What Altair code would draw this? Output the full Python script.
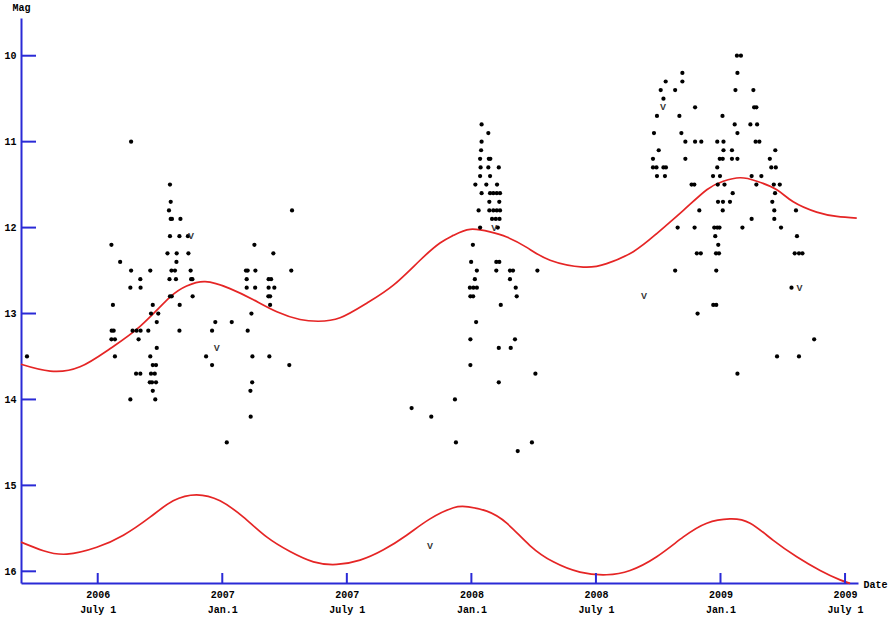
import altair as alt
import pandas as pd

# ---------------- data (decimal years, magnitudes) ----------------
s1_years = [2006.216, 2006.634, 2006.790, 2006.793, 2006.786, 2007.280, 2006.793, 2006.798, 2006.832,
            2006.790, 2006.828, 2006.862, 2006.555, 2007.129, 2006.780, 2006.817, 2006.864, 2007.205,
            2006.590, 2006.816, 2006.634, 2006.711, 2006.796, 2006.810, 2006.873, 2007.095, 2007.102,
            2007.133, 2007.277, 2006.671, 2006.788, 2006.814, 2006.875, 2006.880, 2007.098, 2007.186,
            2007.196, 2006.631, 2006.672, 2007.098, 2007.132, 2007.186, 2007.209, 2006.790, 2006.797,
            2006.881, 2007.185, 2007.192, 2006.561, 2006.721, 2006.829, 2007.192, 2006.714, 2006.743,
            2007.117, 2006.737, 2006.972, 2007.038, 2006.556, 2006.564, 2006.640, 2006.656, 2006.672,
            2006.703, 2006.828, 2006.959, 2007.102, 2006.555, 2006.569, 2006.664, 2006.737, 2006.569,
            2006.711, 2006.935, 2007.121, 2007.189, 2006.721, 2006.734, 2006.959, 2007.269, 2006.654,
            2006.671, 2006.714, 2006.729, 2006.709, 2006.718, 2006.734, 2007.120, 2006.721, 2007.113,
            2006.631, 2006.731, 2007.114, 2007.018]
s1_mags = [13.5, 11.0, 11.5, 11.7, 11.8, 11.8, 11.9, 11.9, 11.9,
           12.1, 12.1, 12.1, 12.2, 12.2, 12.3, 12.3, 12.3, 12.3,
           12.4, 12.4, 12.5, 12.5, 12.5, 12.5, 12.5, 12.5, 12.5,
           12.5, 12.5, 12.6, 12.6, 12.6, 12.6, 12.6, 12.6, 12.6,
           12.6, 12.7, 12.7, 12.7, 12.7, 12.7, 12.7, 12.8, 12.8,
           12.8, 12.8, 12.8, 12.9, 12.9, 12.9, 12.9, 13.0, 13.0,
           13.0, 13.1, 13.1, 13.1, 13.2, 13.2, 13.2, 13.2, 13.2,
           13.2, 13.2, 13.2, 13.2, 13.3, 13.3, 13.3, 13.4, 13.5,
           13.5, 13.5, 13.5, 13.5, 13.6, 13.6, 13.6, 13.6, 13.7,
           13.7, 13.7, 13.7, 13.8, 13.8, 13.8, 13.8, 13.9, 13.9,
           14.0, 14.0, 14.2, 14.5]

s2_years = [2008.041, 2008.068, 2008.041, 2008.039, 2008.035, 2008.070, 2008.076, 2008.037, 2008.068,
            2008.110, 2008.035, 2008.075, 2008.016, 2008.060, 2008.103, 2008.041, 2008.075, 2008.088,
            2008.102, 2008.115, 2008.072, 2008.112, 2008.029, 2008.072, 2008.088, 2008.102, 2008.115,
            2008.083, 2008.098, 2008.113, 2008.035, 2008.106, 2008.006, 2007.999, 2008.100, 2008.112,
            2008.022, 2008.100, 2008.155, 2008.167, 2008.265, 2008.014, 2008.155, 2007.994, 2008.008,
            2008.022, 2008.178, 2007.996, 2008.007, 2008.182, 2008.118, 2008.019, 2007.996, 2008.175,
            2008.110, 2008.158, 2007.996, 2008.257, 2008.110, 2007.934, 2007.760, 2007.839, 2007.938,
            2008.243, 2008.186]
s2_mags = [10.8, 10.9, 11.0, 11.1, 11.2, 11.2, 11.2, 11.3, 11.3,
           11.3, 11.4, 11.4, 11.5, 11.5, 11.5, 11.6, 11.6, 11.6,
           11.6, 11.6, 11.7, 11.7, 11.8, 11.8, 11.8, 11.8, 11.8,
           11.9, 11.9, 11.9, 12.0, 12.0, 12.2, 12.4, 12.4, 12.4,
           12.5, 12.5, 12.5, 12.5, 12.5, 12.6, 12.6, 12.7, 12.7,
           12.7, 12.7, 12.8, 12.8, 12.8, 12.9, 13.1, 13.3, 13.3,
           13.4, 13.4, 13.6, 13.7, 13.8, 14.0, 14.1, 14.2, 14.5,
           14.5, 14.6]

s3_years = [2009.066, 2009.082, 2008.847, 2009.068, 2008.780, 2008.847, 2008.760, 2008.818, 2009.060,
            2009.132, 2008.771, 2008.898, 2009.135, 2009.144, 2008.745, 2008.835, 2009.008, 2009.057,
            2009.120, 2009.147, 2008.733, 2008.843, 2009.068, 2008.859, 2008.898, 2008.923, 2008.987,
            2009.012, 2009.141, 2009.156, 2008.752, 2009.012, 2009.046, 2009.220, 2008.729, 2008.859,
            2008.997, 2009.009, 2009.046, 2009.068, 2009.198, 2008.729, 2008.743, 2008.771, 2008.781,
            2008.987, 2009.204, 2009.222, 2008.745, 2008.777, 2008.970, 2008.998, 2009.125, 2009.164,
            2008.884, 2008.895, 2008.989, 2009.016, 2009.144, 2009.214, 2009.238, 2009.049, 2009.219,
            2008.990, 2009.010, 2009.038, 2009.208, 2008.915, 2009.009, 2009.216, 2009.303, 2009.125,
            2009.216, 2008.828, 2008.896, 2008.975, 2008.987, 2008.996, 2009.088, 2009.243, 2008.979,
            2009.307, 2008.991, 2008.905, 2008.921, 2008.982, 2008.994, 2009.298, 2009.315, 2009.329,
            2008.818, 2008.983, 2009.285, 2008.971, 2008.983, 2008.908, 2009.376, 2009.227, 2009.315,
            2009.068]
s3_mags = [10.0, 10.0, 10.2, 10.2, 10.3, 10.3, 10.4, 10.4, 10.4,
           10.4, 10.5, 10.6, 10.6, 10.6, 10.7, 10.7, 10.7, 10.8,
           10.8, 10.8, 10.9, 10.9, 10.9, 11.0, 11.0, 11.0, 11.0,
           11.0, 11.0, 11.0, 11.1, 11.1, 11.1, 11.1, 11.2, 11.2,
           11.2, 11.2, 11.2, 11.2, 11.2, 11.3, 11.3, 11.3, 11.3,
           11.3, 11.3, 11.3, 11.4, 11.4, 11.4, 11.4, 11.4, 11.4,
           11.5, 11.5, 11.5, 11.5, 11.5, 11.5, 11.5, 11.6, 11.6,
           11.7, 11.7, 11.7, 11.7, 11.8, 11.8, 11.8, 11.8, 11.9,
           11.9, 12.0, 12.0, 12.0, 12.0, 12.0, 12.0, 12.0, 12.1,
           12.1, 12.2, 12.3, 12.3, 12.3, 12.3, 12.3, 12.3, 12.3,
           12.5, 12.5, 12.7, 12.9, 12.9, 13.0, 13.3, 13.5, 13.5,
           13.7]

# "fainter than" (V) observations
v_years = [2006.874, 2006.978, 2007.834, 2008.092, 2008.693, 2008.769, 2009.317]
v_mags = [12.1, 13.4, 15.7, 12.0, 12.8, 10.6, 12.7]

# maximum / minimum ephemeris curves
upper_years = [2006.192, 2006.309, 2006.429, 2006.549, 2006.670, 2006.790, 2006.857, 2006.931,
               2007.031, 2007.125, 2007.219, 2007.312, 2007.386, 2007.473, 2007.580, 2007.687,
               2007.794, 2007.874, 2007.928, 2007.995, 2008.075, 2008.142, 2008.222, 2008.316,
               2008.449, 2008.543, 2008.650, 2008.744, 2008.851, 2008.945, 2009.011, 2009.079,
               2009.146, 2009.226, 2009.292, 2009.386, 2009.467, 2009.547]
upper_mags = [13.59, 13.67, 13.62, 13.41, 13.15, 12.81, 12.68, 12.63,
              12.71, 12.84, 12.98, 13.07, 13.09, 13.05, 12.88, 12.67,
              12.38, 12.18, 12.09, 12.02, 12.05, 12.11, 12.23, 12.38,
              12.46, 12.42, 12.28, 12.07, 11.80, 11.56, 11.46, 11.42,
              11.46, 11.56, 11.70, 11.82, 11.87, 11.89]

lower_years = [2006.192, 2006.282, 2006.376, 2006.496, 2006.603, 2006.710, 2006.803, 2006.897,
               2006.991, 2007.085, 2007.178, 2007.272, 2007.366, 2007.459, 2007.553, 2007.647,
               2007.740, 2007.834, 2007.928, 2007.988, 2008.062, 2008.142, 2008.235, 2008.329,
               2008.436, 2008.543, 2008.637, 2008.744, 2008.851, 2008.945, 2009.038, 2009.119,
               2009.212, 2009.306, 2009.400, 2009.480, 2009.520]
lower_mags = [15.66, 15.76, 15.80, 15.72, 15.58, 15.37, 15.18, 15.11,
              15.18, 15.37, 15.60, 15.77, 15.89, 15.92, 15.87, 15.75,
              15.58, 15.39, 15.26, 15.25, 15.30, 15.44, 15.70, 15.89,
              16.01, 16.04, 15.99, 15.83, 15.60, 15.44, 15.39, 15.44,
              15.64, 15.83, 15.99, 16.10, 16.14]

x_tick_values = [2006.5, 2007.0, 2007.5, 2008.0, 2008.5, 2009.0, 2009.5]
y_tick_values = [10, 11, 12, 13, 14, 15, 16]

# ---------------- chart ----------------
BLUE = "#2a2ad6"
RED = "#e52525"
FONT = "Liberation Mono"

dots_df = pd.DataFrame({"year": s1_years + s2_years + s3_years,
                        "mag": s1_mags + s2_mags + s3_mags})
v_df = pd.DataFrame({"year": v_years, "mag": v_mags})
upper_df = pd.DataFrame({"year": upper_years, "mag": upper_mags})
lower_df = pd.DataFrame({"year": lower_years, "mag": lower_mags})
xt_df = pd.DataFrame({"year": x_tick_values})
yt_df = pd.DataFrame({"mag": y_tick_values})

x_scale = alt.Scale(domain=[2006.192, 2009.552], nice=False, zero=False)
y_scale = alt.Scale(domain=[9.561, 16.136], nice=False, zero=False, reverse=True)

x_axis = alt.Axis(
    values=x_tick_values,
    labelExpr="[format(floor(datum.value), 'd'), (datum.value % 1) > 0.25 ? 'July 1' : 'Jan.1']",
    ticks=False, grid=False, domainColor=BLUE, domainWidth=2,
    labelFont=FONT, labelFontSize=10, labelFontWeight="bold", labelColor="black",
    labelPadding=6, labelLineHeight=15, labelBaseline="top", labelFlush=False, labelOverlap=False,
    title="Date", titleX=842, titleY=1, titleAlign="left", titleBaseline="middle", titleAngle=0,
    titleFont=FONT, titleFontSize=10, titleFontWeight="bold", titleColor="black",
)
y_axis = alt.Axis(
    values=y_tick_values, format="d",
    ticks=False, grid=False, domainColor=BLUE, domainWidth=2,
    labelFont=FONT, labelFontSize=10, labelFontWeight="bold", labelColor="black",
    labelPadding=5,
    title="Mag", titleX=-9, titleY=-11, titleAlign="left", titleBaseline="middle", titleAngle=0,
    titleFont=FONT, titleFontSize=10, titleFontWeight="bold", titleColor="black",
)

X = alt.X("year:Q", scale=x_scale, axis=x_axis)
Y = alt.Y("mag:Q", scale=y_scale, axis=y_axis)

upper = alt.Chart(upper_df).mark_line(color=RED, strokeWidth=1.7, interpolate="natural").encode(x=X, y=Y)
lower = alt.Chart(lower_df).mark_line(color=RED, strokeWidth=1.7, interpolate="natural").encode(x=X, y=Y)
dots = alt.Chart(dots_df).mark_circle(color="black", size=18, opacity=1).encode(x=X, y=Y)
vmarks = alt.Chart(v_df).mark_text(text="V", font="Liberation Sans", fontSize=9, fontWeight="bold",
                                    color="#333333", align="center", baseline="middle").encode(x=X, y=Y)
yticks = alt.Chart(yt_df).mark_rule(color=BLUE, strokeWidth=2).encode(
    y=Y, x=alt.value(0), x2=alt.value(15))
xticks = alt.Chart(xt_df).mark_rule(color=BLUE, strokeWidth=2).encode(
    x=X, y=alt.value(555), y2=alt.value(565))

chart = alt.layer(upper, lower, dots, vmarks, yticks, xticks).properties(
    width=837, height=565,
    padding={"left": 21, "top": 18, "right": 33, "bottom": 35},
    autosize=alt.AutoSizeParams(type="none"),
    background="white",
).configure_view(strokeWidth=0)

chart.save("out.html", embed_options={"renderer": "svg", "actions": False})
